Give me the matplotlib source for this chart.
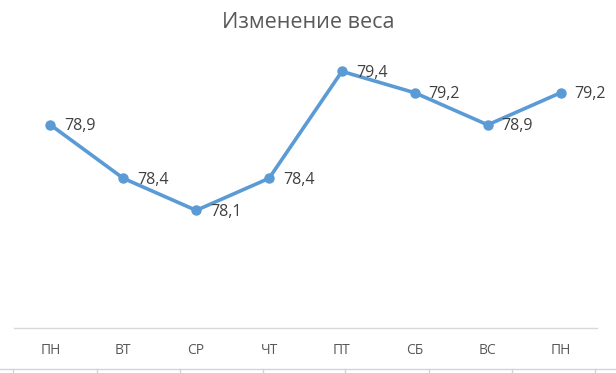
import matplotlib
matplotlib.use('Agg')
import matplotlib.pyplot as plt
from matplotlib.lines import Line2D

# ==================== data ====================
days = ['ПН', 'ВТ', 'СР', 'ЧТ', 'ПТ', 'СБ', 'ВС', 'ПН']
weight = [78.9, 78.4, 78.1, 78.4, 79.4, 79.2, 78.9, 79.2]
title = 'Изменение веса'

plt.rcParams['font.family'] = ['Open Sans', 'DejaVu Sans']

W, H = 616, 373
fig = plt.figure(figsize=(W / 100, H / 100), dpi=100)
ax = fig.add_axes([14 / W, (H - 328) / H, (597 - 14) / W, (328 - 50) / H])

x = range(len(days))
ax.plot(x, weight, color='#5b9bd5', linewidth=2.6, marker='o', markersize=6.5,
        solid_capstyle='round', zorder=3)

# подписи значений (запятая как десятичный разделитель)
for xi, v in zip(x, weight):
    ax.annotate(f'{v:.1f}'.replace('.', ','), (xi, v), xytext=(10, -1),
                textcoords='offset points', ha='left', va='center',
                fontsize=11.5, color='#404040')

ax.set_xlim(-0.5, len(days) - 0.5)
ax.set_ylim(77.0, 79.6)
ax.set_xticks(list(x))
ax.set_xticklabels(days, fontsize=10, color='#595959')
ax.tick_params(axis='x', length=0, pad=11)
ax.set_yticks([])
for side in ['top', 'left', 'right']:
    ax.spines[side].set_visible(False)
ax.spines['bottom'].set_color('#d9d9d9')
ax.spines['bottom'].set_linewidth(1.0)

fig.text(0.5, 1 - 23 / H, title, ha='center', va='center',
         fontsize=15.5, color='#595959')

# линии ячеек под диаграммой
fig.add_artist(Line2D([0, 1], [1 - 369 / H] * 2, color='#d4d4d4', linewidth=1.0))
for px in [13, 97, 180, 263, 345, 429, 512, 595]:
    fig.add_artist(Line2D([px / W] * 2, [0, 1 - 369 / H], color='#d4d4d4', linewidth=1.0))

fig.savefig('out.png', dpi=100, facecolor='white')
